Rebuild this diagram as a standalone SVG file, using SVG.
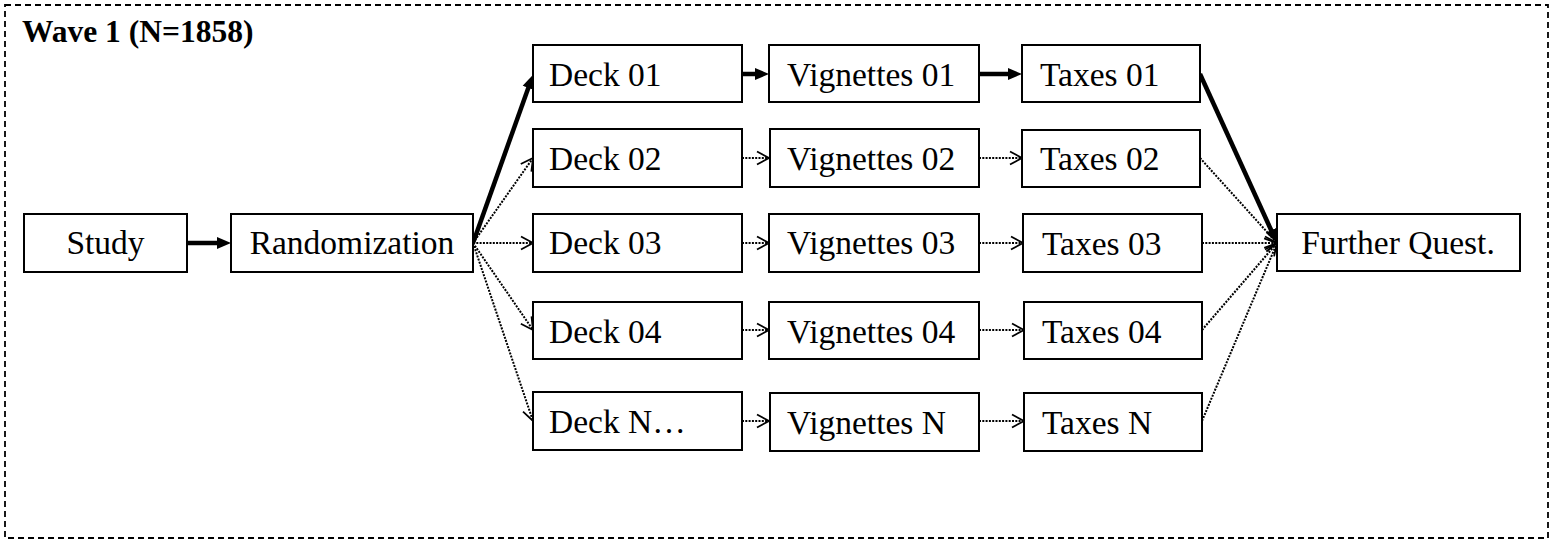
<svg xmlns="http://www.w3.org/2000/svg" width="1554" height="544" viewBox="0 0 1554 544">
<style>
.box{fill:#fff;stroke:#000;stroke-width:2}
.t{font-family:"Liberation Serif","Times New Roman",serif;font-size:33.5px;fill:#000}
.thick{stroke:#000;stroke-width:4.5;fill:none;marker-end:url(#fa)}
.dot{stroke:#000;stroke-width:2;stroke-dasharray:2 1.3;fill:none;marker-end:url(#oa)}
</style>
<defs>
<marker id="fa" markerUnits="userSpaceOnUse" markerWidth="16" markerHeight="14" refX="2" refY="7" orient="auto">
<path d="M0,1 L14,7 L0,13 z" fill="#000"/>
</marker>
<marker id="oa" markerUnits="userSpaceOnUse" markerWidth="16" markerHeight="16" refX="13" refY="8" orient="auto">
<path d="M1,1.5 L13,8 L1,14.5" fill="none" stroke="#000" stroke-width="1.8"/>
</marker>
</defs>
<rect x="5" y="5" width="1543" height="533" fill="#fff" stroke="#000" stroke-width="1.8" stroke-dasharray="6 4"/>
<text x="22" y="42" font-family="Liberation Serif,'Times New Roman',serif" font-size="31.5" font-weight="bold">Wave 1 (N=1858)</text>

<g id="connectors">
<line class="thick" x1="187" y1="243" x2="219" y2="243"/>
<line class="thick" x1="473" y1="243" x2="529" y2="86"/>
<line class="dot" x1="473" y1="243" x2="533" y2="158"/>
<line class="dot" x1="473" y1="243" x2="533" y2="243"/>
<line class="dot" x1="473" y1="243" x2="533" y2="330"/>
<line class="dot" x1="473" y1="243" x2="533" y2="421"/>
<line class="thick" x1="742" y1="74" x2="757" y2="74"/>
<line class="dot" x1="742" y1="158" x2="769" y2="158"/>
<line class="dot" x1="742" y1="243" x2="769" y2="243"/>
<line class="dot" x1="742" y1="330" x2="769" y2="330"/>
<line class="dot" x1="742" y1="421" x2="769" y2="421"/>
<line class="thick" x1="979" y1="74" x2="1010" y2="74"/>
<line class="dot" x1="979" y1="158" x2="1022" y2="158"/>
<line class="dot" x1="979" y1="243" x2="1023" y2="243"/>
<line class="dot" x1="979" y1="330" x2="1024" y2="330"/>
<line class="dot" x1="979" y1="421" x2="1024" y2="421"/>
<line class="thick" x1="1200" y1="74" x2="1272" y2="232"/>
<line class="dot" x1="1200" y1="158" x2="1277" y2="243"/>
<line class="dot" x1="1202" y1="243" x2="1277" y2="243"/>
<line class="dot" x1="1202" y1="330" x2="1277" y2="243"/>
<line class="dot" x1="1202" y1="421" x2="1277" y2="243"/>
</g>

<g id="study"><rect class="box" x="24" y="214" width="163" height="58"/><text class="t" x="105.5" y="254" text-anchor="middle">Study</text></g>
<g id="randomization"><rect class="box" x="231" y="214" width="242" height="58"/><text class="t" x="352" y="254" text-anchor="middle">Randomization</text></g>

<g id="deck01"><rect class="box" x="533" y="45" width="209" height="57"/><text class="t" x="549" y="86">Deck 01</text></g>
<g id="deck02"><rect class="box" x="533" y="129" width="209" height="58"/><text class="t" x="549" y="170">Deck 02</text></g>
<g id="deck03"><rect class="box" x="533" y="214" width="209" height="58"/><text class="t" x="549" y="254">Deck 03</text></g>
<g id="deck04"><rect class="box" x="533" y="302" width="209" height="57"/><text class="t" x="549" y="343">Deck 04</text></g>
<g id="deckN"><rect class="box" x="533" y="392" width="209" height="58"/><text class="t" x="549" y="433">Deck N…</text></g>

<g id="vig01"><rect class="box" x="769" y="45" width="210" height="57"/><text class="t" x="787" y="86">Vignettes 01</text></g>
<g id="vig02"><rect class="box" x="770" y="129" width="209" height="58"/><text class="t" x="787" y="170">Vignettes 02</text></g>
<g id="vig03"><rect class="box" x="769" y="214" width="210" height="58"/><text class="t" x="787" y="254">Vignettes 03</text></g>
<g id="vig04"><rect class="box" x="769" y="302" width="210" height="57"/><text class="t" x="787" y="343">Vignettes 04</text></g>
<g id="vigN"><rect class="box" x="770" y="393" width="209" height="58"/><text class="t" x="787" y="434">Vignettes N</text></g>

<g id="tax01"><rect class="box" x="1022" y="45" width="178" height="57"/><text class="t" x="1040" y="86">Taxes 01</text></g>
<g id="tax02"><rect class="box" x="1022" y="130" width="178" height="57"/><text class="t" x="1040" y="170">Taxes 02</text></g>
<g id="tax03"><rect class="box" x="1023" y="214" width="179" height="58"/><text class="t" x="1042" y="255">Taxes 03</text></g>
<g id="tax04"><rect class="box" x="1024" y="302" width="178" height="57"/><text class="t" x="1042" y="343">Taxes 04</text></g>
<g id="taxN"><rect class="box" x="1024" y="393" width="178" height="58"/><text class="t" x="1042" y="434">Taxes N</text></g>

<g id="further"><rect class="box" x="1277" y="214" width="243" height="57"/><text class="t" x="1398" y="254" text-anchor="middle">Further Quest.</text></g>
</svg>
